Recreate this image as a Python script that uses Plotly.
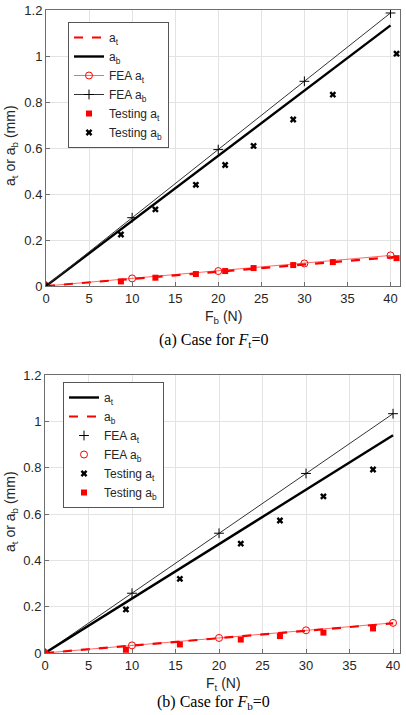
import plotly.graph_objects as go

# ---------------- data: case (a) F_t = 0 ----------------
a_theory_F = [0, 41.1]
a_theory_at = [0, 0.128]
a_theory_F_b = [0, 40]
a_theory_ab = [0, 1.133]
a_fea_F = [0, 10, 20, 30, 40]
a_fea_at = [0, 0.033, 0.065, 0.098, 0.133]
a_fea_ab = [0, 0.297, 0.593, 0.890, 1.187]
a_test_F = [0, 8.7, 12.7, 17.4, 20.8, 24.1, 28.7, 33.3, 40.7]
a_test_at = [0, 0.020, 0.036, 0.052, 0.065, 0.078, 0.091, 0.104, 0.121]
a_test_ab = [0, 0.224, 0.333, 0.440, 0.526, 0.609, 0.724, 0.832, 1.010]

# ---------------- data: case (b) F_b = 0 ----------------
b_theory_F = [0, 40]
b_theory_at = [0, 0.940]
b_theory_ab = [0, 0.128]
b_fea_F = [0, 10, 20, 30, 40]
b_fea_at = [0, 0.258, 0.517, 0.775, 1.033]
b_fea_ab = [0, 0.033, 0.065, 0.098, 0.130]
b_test_F = [0, 9.3, 15.5, 22.5, 27.0, 32.0, 37.7]
b_test_at = [0, 0.188, 0.320, 0.472, 0.572, 0.676, 0.792]
b_test_ab = [0, 0.014, 0.037, 0.058, 0.073, 0.088, 0.106]

y_ticks = [0, 0.2, 0.4, 0.6, 0.8, 1.0, 1.2]
x_ticks = [0, 5, 10, 15, 20, 25, 30, 35, 40]

RED = "#ff0000"
BLK = "#000000"
W, H = 406, 715

fig = go.Figure()

PLUS = dict(symbol="cross-thin-open", size=7, color=BLK, line=dict(width=1, color=BLK))
CIRC = dict(symbol="circle-open", size=7, color=RED, line=dict(width=1))
SQR = dict(symbol="square", size=6, color=RED)
XMK = dict(symbol="x", size=6, color=BLK)

# ---- top subplot traces ----
fig.add_trace(go.Scatter(x=a_theory_F, y=a_theory_at, mode="lines", name="a<sub>t</sub>",
                         line=dict(color=RED, width=2.2, dash="dash"), xaxis="x", yaxis="y", legend="legend"))
fig.add_trace(go.Scatter(x=a_theory_F_b, y=a_theory_ab, mode="lines", name="a<sub>b</sub>",
                         line=dict(color=BLK, width=2.4), xaxis="x", yaxis="y", legend="legend"))
fig.add_trace(go.Scatter(x=a_fea_F, y=a_fea_at, mode="lines+markers", name="FEA a<sub>t</sub>",
                         line=dict(color="rgba(255,0,0,0.6)", width=1), marker=CIRC,
                         xaxis="x", yaxis="y", legend="legend"))
fig.add_trace(go.Scatter(x=a_fea_F, y=a_fea_ab, mode="lines+markers", name="FEA a<sub>b</sub>",
                         line=dict(color="#333333", width=1), marker=PLUS,
                         xaxis="x", yaxis="y", legend="legend"))
fig.add_trace(go.Scatter(x=a_test_F, y=a_test_at, mode="markers", name="Testing a<sub>t</sub>",
                         marker=SQR, xaxis="x", yaxis="y", legend="legend"))
fig.add_trace(go.Scatter(x=a_test_F, y=a_test_ab, mode="markers", name="Testing a<sub>b</sub>",
                         marker=XMK, xaxis="x", yaxis="y", legend="legend"))

# ---- bottom subplot traces ----
fig.add_trace(go.Scatter(x=b_fea_F, y=b_fea_at, mode="lines", showlegend=False,
                         line=dict(color="#333333", width=1), xaxis="x2", yaxis="y2"))
fig.add_trace(go.Scatter(x=b_fea_F, y=b_fea_ab, mode="lines", showlegend=False,
                         line=dict(color="rgba(255,0,0,0.6)", width=1), xaxis="x2", yaxis="y2"))
fig.add_trace(go.Scatter(x=b_theory_F, y=b_theory_at, mode="lines", name="a<sub>t</sub>",
                         line=dict(color=BLK, width=2.4), xaxis="x2", yaxis="y2", legend="legend2"))
fig.add_trace(go.Scatter(x=b_theory_F, y=b_theory_ab, mode="lines", name="a<sub>b</sub>",
                         line=dict(color=RED, width=2.2, dash="dash"), xaxis="x2", yaxis="y2", legend="legend2"))
fig.add_trace(go.Scatter(x=b_fea_F, y=b_fea_at, mode="markers", name="FEA a<sub>t</sub>",
                         marker=PLUS, xaxis="x2", yaxis="y2", legend="legend2"))
fig.add_trace(go.Scatter(x=b_fea_F, y=b_fea_ab, mode="markers", name="FEA a<sub>b</sub>",
                         marker=CIRC, xaxis="x2", yaxis="y2", legend="legend2"))
fig.add_trace(go.Scatter(x=b_test_F, y=b_test_at, mode="markers", name="Testing a<sub>t</sub>",
                         marker=XMK, xaxis="x2", yaxis="y2", legend="legend2"))
fig.add_trace(go.Scatter(x=b_test_F, y=b_test_ab, mode="markers", name="Testing a<sub>b</sub>",
                         marker=SQR, xaxis="x2", yaxis="y2", legend="legend2"))

FONT = "Liberation Sans, Arial, sans-serif"
TICKF = dict(family=FONT, size=13, color="#262626")

def px_x(p):
    return p / W

def px_y(p):
    return 1 - p / H

axis_common = dict(showgrid=True, gridcolor="#e3e3e3", gridwidth=1, zeroline=False,
                   showline=True, linecolor="#6e6e6e", linewidth=1, mirror=True,
                   ticks="inside", ticklen=4, tickcolor="#6e6e6e",
                   tickfont=TICKF, automargin=False)

legend_common = dict(xanchor="left", yanchor="top",
                     bgcolor="white", bordercolor="#555555", borderwidth=1,
                     font=dict(family=FONT, size=12, color="#262626"),
                     tracegroupgap=0, itemwidth=30, traceorder="normal")

fig.update_layout(
    width=W, height=H,
    margin=dict(l=0, r=0, t=0, b=0),
    paper_bgcolor="white", plot_bgcolor="white",
    xaxis=dict(domain=[px_x(46), px_x(400)], range=[0, 41.1], tickvals=x_ticks, anchor="y", **axis_common),
    yaxis=dict(domain=[px_y(286), px_y(10)], range=[0, 1.2], tickvals=y_ticks, anchor="x", **axis_common),
    xaxis2=dict(domain=[px_x(45), px_x(400)], range=[0, 40.8], tickvals=x_ticks, anchor="y2", **axis_common),
    yaxis2=dict(domain=[px_y(653), px_y(375)], range=[0, 1.2], tickvals=y_ticks, anchor="x2", **axis_common),
    legend=dict(x=px_x(68), y=px_y(22), **legend_common),
    legend2=dict(x=px_x(63), y=px_y(382), **legend_common),
    showlegend=True,
)

annots = [
    dict(text="F<sub>b</sub> (N)", x=px_x(223), y=px_y(317)),
    dict(text="(a) Case for <i>F</i><sub>t</sub>=0", x=px_x(213), y=px_y(340),
         font=dict(family="Liberation Serif, Times New Roman, serif", size=16, color="black")),
    dict(text="a<sub>t</sub> or a<sub>b</sub> (mm)", x=px_x(11), y=px_y(146), textangle=-90),
    dict(text="F<sub>t</sub> (N)", x=px_x(223), y=px_y(684)),
    dict(text="(b) Case for <i>F</i><sub>b</sub>=0", x=px_x(213), y=px_y(702),
         font=dict(family="Liberation Serif, Times New Roman, serif", size=16, color="black")),
    dict(text="a<sub>t</sub> or a<sub>b</sub> (mm)", x=px_x(11), y=px_y(512), textangle=-90),
]
for a in annots:
    fig.add_annotation(xref="paper", yref="paper", showarrow=False,
                       xanchor="center", yanchor="middle",
                       font=a.pop("font", dict(family=FONT, size=14, color="#262626")), **a)

fig.write_html("out.html")
